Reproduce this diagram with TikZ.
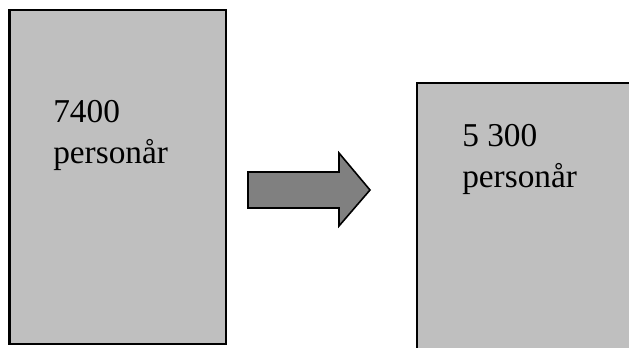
\documentclass[tikz,border=0pt]{standalone}
\usepackage{fontspec}
\setmainfont{Liberation Serif}
\begin{document}
\begin{tikzpicture}[x=0.75pt,y=-0.75pt,
  boxfill/.style={fill=black!25},
  boxedge/.style={draw=black,line width=1.6pt},
  count/.style={anchor=base west,align=left,inner sep=0pt,
    font=\fontsize{25pt}{30.5pt}\selectfont},
  shiftarrow/.style={fill=black!50,draw=black,line width=1.2pt,line join=miter}]
\useasboundingbox (0,0) rectangle (629,347);
\clip (0,0) rectangle (629,347);
% left column: before
\path[boxfill,boxedge] (9.5,10) rectangle (226,344);
\node[count] (before) at (53,163) {7400\\personår};
% right column: after (runs off the lower and right edges)
\fill[boxfill] (417,83) rectangle (640,360);
\draw[line width=1.6pt] (417,360) -- (417,83) -- (640,83);
\node[count] (after) at (462,187) {5 300\\personår};
% block arrow between the columns
\path[shiftarrow] (248,172) -- (339,172) -- (339,153) -- (370,190)
  -- (339,226) -- (339,208) -- (248,208) -- cycle;
\end{tikzpicture}
\end{document}
